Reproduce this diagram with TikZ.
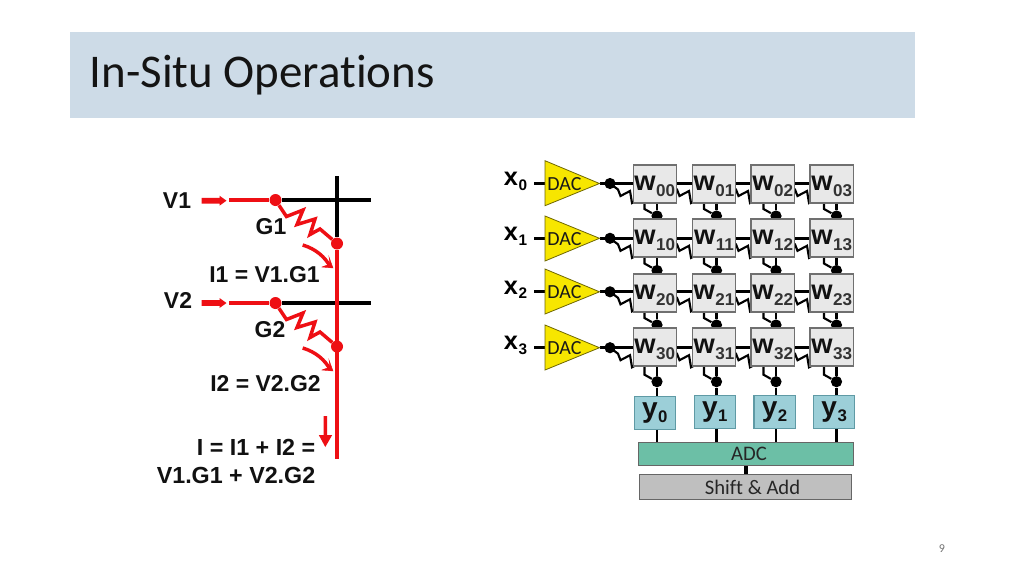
\documentclass[tikz,border=0pt]{standalone}
\usepackage{fontspec}
\setmainfont{Liberation Sans}
\newfontfamily\calfont[Ligatures=NoCommon]{Carlito}
\usetikzlibrary{calc}
\definecolor{titlebg}{HTML}{CDDBE7}
\definecolor{redw}{HTML}{EE0F14}
\definecolor{dacy}{HTML}{F7E600}
\definecolor{cellg}{HTML}{E8E8E8}
\definecolor{cellb}{HTML}{707070}
\definecolor{yb}{HTML}{9CCFD8}
\definecolor{ybd}{HTML}{5F9AA5}
\definecolor{adcg}{HTML}{6CBFA6}
\definecolor{shiftg}{HTML}{BFBFBF}
\definecolor{txt}{HTML}{111111}
\newcommand{\px}[1]{\fontsize{#1}{#1}\selectfont}
\newcommand{\wlab}[2]{{\px{20.5}\bfseries w}\hspace{0.3pt}\raisebox{-4.5pt}{\px{12.8}\bfseries\textcolor{black!80}{#1#2}}}
\newcommand{\xlab}[1]{{\px{19}\bfseries x}\hspace{0.6pt}\raisebox{-3.6pt}{\px{11.5}\textbf{#1}}}
\newcommand{\ylab}[1]{{\px{21}\bfseries y}\hspace{0.4pt}\raisebox{-3.8pt}{\px{12.6}\textbf{#1}}}
\tikzset{
  lab/.style={inner sep=0pt,font=\px{17.2}\bfseries,text=txt},
  wide lab/.style={inner sep=0pt,font=\px{17.45}\bfseries,text=txt,anchor=east},
  redline/.style={redw,line width=3.2pt},
  blackline/.style={black,line width=3pt},
  zig/.style={redw,line width=2.6pt,line join=miter},
  dotr/.style={circle,fill=redw,inner sep=0pt,minimum size=9pt},
  dotk/.style={circle,fill=black,inner sep=0pt,minimum size=8.4pt},
  wire/.style={black,line width=2.1pt},
  thin zig/.style={black,line width=1.6pt,line join=miter},
  cell/.style={draw=cellb,fill=cellg,line width=.9pt,minimum width=32.5pt,minimum height=28.5pt,inner sep=0pt,text=txt,text height=12pt,text depth=3pt},
  dac/.style={draw=black!55!dacy,fill=dacy,line width=.6pt},
  ycell/.style={draw=ybd,fill=yb,line width=.9pt,minimum width=31pt,minimum height=24.5pt,inner sep=0pt,text=txt},
  bar/.style={draw=black!60,line width=.8pt,inner sep=0pt,text=black!85,font=\calfont\px{15.5}},
  curr/.style={redw,line width=2.6pt},
  head/.style={redw,fill=redw,line width=.3pt},
}
\begin{document}
\begin{tikzpicture}[x=.75pt,y=-.75pt]
\path[use as bounding box,fill=white] (0,0) rectangle (1024,576);
\node[fill=titlebg,minimum width=633.75pt,minimum height=64.5pt,inner sep=0pt] (titlebar) at (492.5,75) {};
\node[anchor=west,inner sep=0pt,font=\calfont\px{35.2},text=black!92] (title) at (89.5,75.5) {In-Situ Operations};
\node[inner sep=0pt,font=\calfont\px{9},text=black!55] (page) at (942,549) {9};

% ---------- left circuit
\node[lab] (v1) at (177,201) {V1};
\node[lab] (v2) at (178,300) {V2};
\node[lab] (g1) at (271,227) {G1};
\node[lab] (g2) at (270,330) {G2};
\node[lab] (i1) at (264.5,275) {I1 = V1.G1};
\node[lab] (i2) at (265.5,384) {I2 = V2.G2};
\node[wide lab] (isum) at (315.5,447) {I = I1 + I2 =};
\node[wide lab] (vsum) at (315.5,475) {V1.G1 + V2.G2};

\coordinate (top) at (337,176);
\coordinate (h1s) at (229,200);
\coordinate (h1e) at (371,200);
\coordinate (h2s) at (229,303);
\coordinate (h2e) at (371,303);
\coordinate (bot) at (337,459);
\node[dotr] (a1) at (275.5,200) {};
\node[dotr] (a2) at (275.5,303) {};
\node[dotr] (b1) at (337,243.5) {};
\node[dotr] (b2) at (337,346.5) {};

\draw[blackline] (top) -- (b1);
\draw[blackline] (a1) -- (h1e);
\draw[blackline] (a2) -- (h2e);
\draw[redline] (h1s) -- (a1);
\draw[redline] (h2s) -- (a2);
\draw[redline,line width=3.6pt] (b1) -- (bot);
\foreach \n/\d in {1/0,2/103}{
  \draw[zig] (a\n) -- ++(11,16.5) -- ++(16.5,-6.5) -- ++(-6,14.5) -- ++(18,-5.5) -- ++(-5,15.5) -- ++(10,-5.5) -- (b\n);
  \draw[curr] (302.7,245+\d) .. controls (316,249+\d) and (325,257+\d) .. (330.5,267+\d);
  \filldraw[head] (322,267+\d) -- (333,268+\d) -- (329,257+\d) -- (330,264+\d) -- cycle;
}
\foreach \y/\n in {200.7/1,303/2}{
  \fill[redw] (201.5,\y-2.8) -- (219.5,\y-2.8) -- (219.5,\y-5) -- (226.5,\y) -- (219.5,\y+5) -- (219.5,\y+2.8) -- (201.5,\y+2.8) -- cycle;
}
\fill[redw] (323.6,416) -- (327,416) -- (327,435) -- (332.2,435) -- (325.3,447) -- (318.8,435) -- (323.6,435) -- cycle;

% ---------- crossbar: geometry
\foreach \i/\r/\t in {0/184/183.5,1/238/238.3,2/293/291.8,3/347/347.7}{
  \coordinate (tip\i) at (599.5,\t);
  \node[dotk] (r\i) at (610,\t) {};
  \node[inner sep=0pt] (x\i) at (515.5,\t-2) {\xlab{\i}};
  \draw[wire] (534,\t) -- (545,\t);
}
% wires
\foreach \r/\t/\yy in {0/183.5/184,1/238.3/238,2/291.8/293,3/347.7/347}{
  \draw[wire] (tip\r) -- (854,\t);
}
\foreach \j/\cx in {0/657,1/716.5,2/776,3/836.5}{
  \foreach \i/\dy in {1/216,2/270.5,3/325,4/381.7}{
    \node[dotk] (d\i\j) at (\cx,\dy) {};
    \draw[wire] (\cx,\dy-20) -- (d\i\j);
    \draw[thin zig] (\cx-12.5,\dy-16) -- ++(0,9) -- (d\i\j);
  }
}
\foreach \i/\t in {0/183.5,1/238.3,2/291.8,3/347.7}{
  \foreach \j/\cx in {0/610,1/669,2/728,3/787}{
    \draw[thin zig] (\cx,\t) -- ++(8,6) -- ++(2.5,6.5) -- ++(9.5,-5) -- ++(2,12) -- ++(4,-2);
  }
}
% triangles
\foreach \i/\t/\u/\b in {0/183.5/160.7/205.7,1/238.3/216/261,2/291.8/269/314,3/347.7/325/370}{
  \draw[dac] (545,\u) -- (545,\b) -- (599.5,\t) -- cycle;
  \node[inner sep=0pt,font=\calfont\px{15},text=black!90] (dac\i) at (564.5,\t+0.5) {DAC};
}
% cells
\foreach \i/\cy in {0/184,1/238,2/293,3/347}{
  \foreach \j/\cx in {0/654.8,1/714,2/772.7,3/831.7}{
    \node[cell] (w\i\j) at (\cx,\cy) {\wlab{\i}{\j}};
  }
}
% y cells
\node[ycell] (y0) at (654.8,413) {\ylab{0}};
\node[ycell] (y1) at (714.8,412) {\raisebox{1pt}{\ylab{1}}};
\node[ycell] (y2) at (774.6,412) {\raisebox{1pt}{\ylab{2}}};
\node[ycell] (y3) at (834.2,412) {\raisebox{2pt}{\ylab{3}}};
\node[bar,fill=adcg,minimum width=161.25pt,minimum height=17pt] (adc) at (746,454) {\hspace{4.5pt}ADC};
\node[bar,fill=shiftg,minimum width=159.4pt,minimum height=18.5pt] (shift) at (745.3,487) {\hspace{10.8pt}Shift \& Add};
\foreach \j in {0,1,2,3}{
  \draw[wire] (d4\j) -- (d4\j |- y\j.north);
  \draw[wire] (d4\j |- y\j.south) -- (d4\j |- adc.north);
}
\draw[wire,line width=2.4pt] (adc.south) -- (adc.south |- shift.north);
\end{tikzpicture}
\end{document}
